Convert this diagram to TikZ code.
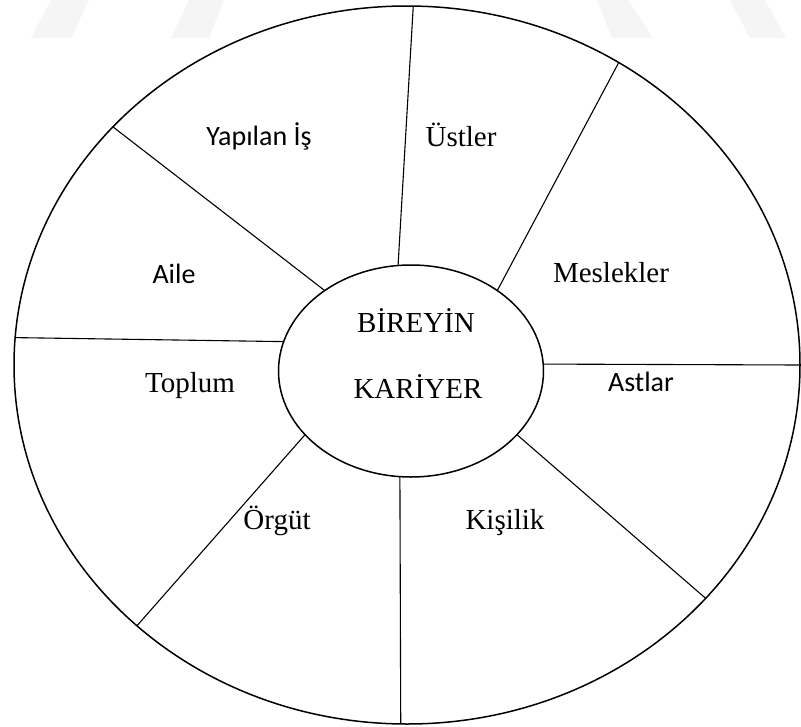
\documentclass[tikz,border=0pt]{standalone}
\usepackage{fontspec}
\setmainfont{Liberation Serif}
\newfontfamily\calibri{Carlito}
\usetikzlibrary{shapes.geometric}

\tikzset{
  halka/.style={draw, ellipse, line width=1.5pt, inner sep=0pt, outer sep=0pt},
  kol/.style={line width=1.1pt},
  yazi/.style={anchor=base, font=\fontsize{29}{34}\selectfont},
  yazisans/.style={anchor=base, font=\calibri\fontsize{28}{34}\selectfont},
  filigran/.style={fill=black!4, draw=none}
}

\begin{document}
\begin{tikzpicture}[x=1pt, y=-1pt]
\useasboundingbox (0,0) rectangle (801,726);

% ---------- filigran ----------
\fill[filigran] (51,0) -- (89,0) -- (71,38) -- (31,38) -- cycle;
\fill[filigran] (189,0) -- (224,0) -- (209,38) -- (171,38) -- cycle;
\fill[filigran] (597,0) -- (628,0) -- (653,38) -- (612,38) -- cycle;
\fill[filigran] (730,0) -- (765,0) -- (786,38) -- (750,38) -- cycle;

% ---------- halkalar ----------
\node[halka, minimum width=786pt, minimum height=718pt] (dis) at (407,365) {};
\node[halka, minimum width=265pt, minimum height=212pt] (merkez) at (411,371) {};

% ---------- kollar ----------
\draw[kol] (merkez.97) -- (dis.89.7);
\draw[kol] (merkez.43) -- (dis.55);
\draw[kol] (merkez.3) -- (dis.0);
\draw[kol] (merkez.-31) -- (dis.-38.5);
\draw[kol] (merkez.-96) -- (dis.-91.3);
\draw[kol] (merkez.211.4) -- (dis.224);
\draw[kol] (merkez.167) -- (dis.176.4);
\draw[kol] (merkez.137) -- (dis.141);

% ---------- yazilar ----------
\node[yazi] (bireyin) at (416,332) {BİREYİN};
\node[yazi] (kariyer) at (418,398) {KARİYER};

\node[yazisans] (yapilan) at (259,145) {Yapılan İş};
\node[yazi] (ustler) at (461,146) {Üstler};
\node[yazisans] (aile) at (174,283) {Aile};
\node[yazi] (meslek) at (611,282) {Meslekler};
\node[yazi] (toplum) at (190,392) {Toplum};
\node[yazisans] (astlar) at (641,391) {Astlar};
\node[yazi] (orgut) at (277,529) {Örgüt};
\node[yazi] (kisilik) at (505,529) {Kişilik};

\end{tikzpicture}
\end{document}
